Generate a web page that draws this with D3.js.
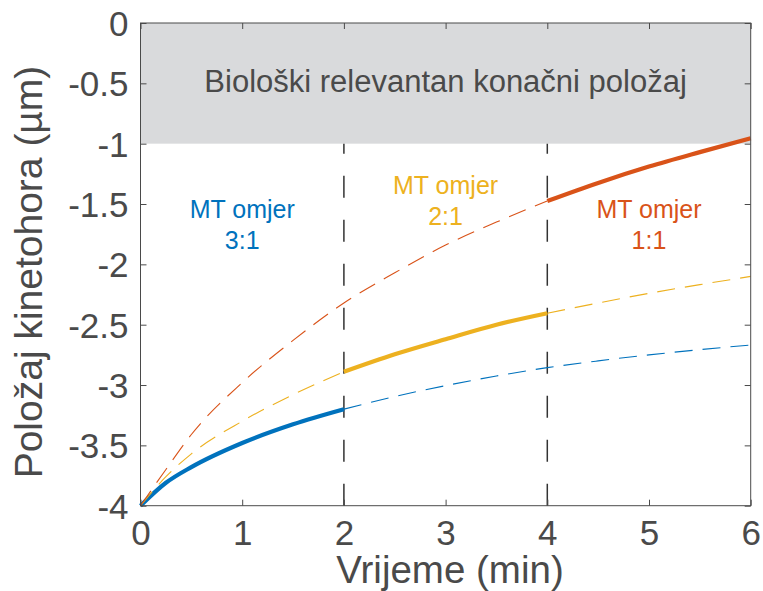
<!DOCTYPE html>
<html>
<head>
<meta charset="utf-8">
<script src="https://cdn.jsdelivr.net/npm/d3@7"></script>
<style>
  html, body { margin: 0; padding: 0; background: #fff; }
  svg { display: block; font-family: "Liberation Sans", Arial, Helvetica, sans-serif; }
</style>
</head>
<body>
<svg id="chart" width="763" height="591"></svg>
<script>
// ---- data ----
const time        = [0, 0.25, 0.5, 1, 1.5, 2, 2.5, 3, 3.5, 4, 4.5, 5, 5.5, 6];
const ratio31     = [-4, -3.81, -3.68, -3.48, -3.325, -3.20, -3.095, -3.005, -2.925, -2.856, -2.80, -2.75, -2.707, -2.668];
const ratio21     = [-4, -3.76, -3.57, -3.30, -3.08, -2.89, -2.745, -2.62, -2.50, -2.405, -2.32, -2.24, -2.168, -2.10];
const ratio11     = [-4, -3.70, -3.41, -2.98, -2.63, -2.32, -2.07, -1.84, -1.65, -1.475, -1.325, -1.19, -1.07, -0.955];
const seriesNames = ["MT omjer\n3:1", "MT omjer\n2:1", "MT omjer\n1:1"];
const activeFrom  = [0, 2, 4];
const activeTo    = [2, 4, 6];
const labelAt     = [1, 3, 5];
const labelY      = [-1.62, -1.42, -1.62];
const colors      = ["#0072BD", "#EDB120", "#D95319"];
const xTicks      = [0, 1, 2, 3, 4, 5, 6];
const yTicks      = [0, -0.5, -1, -1.5, -2, -2.5, -3, -3.5, -4];
const phaseLines  = [2, 4];
const bandRange   = [-1, 0];
const bandText    = "Biološki relevantan konačni položaj";
const xTitle      = "Vrijeme (min)";
const yTitle      = "Položaj kinetohora (µm)";

// ---- layout ----
const svg = d3.select("#chart");
const L = 140.5, R = 750.7, T = 23, B = 505.7;
const axisColor = "#4a4a4a";
const x = d3.scaleLinear().domain([0, 6]).range([L, R]);
const y = d3.scaleLinear().domain([-4, 0]).range([B, T]);

// grey band
svg.append("rect")
  .attr("x", x(0)).attr("width", x(6) - x(0))
  .attr("y", y(bandRange[1])).attr("height", y(bandRange[0]) - y(bandRange[1]))
  .attr("fill", "#d9dadc");

svg.append("text")
  .attr("x", x(3)).attr("y", 92)
  .attr("text-anchor", "middle")
  .attr("font-size", 31).attr("fill", "#4a4a4a")
  .text(bandText);

// phase separator lines
phaseLines.forEach(t => {
  svg.append("line")
    .attr("x1", x(t)).attr("x2", x(t))
    .attr("y1", y(-4)).attr("y2", y(-1))
    .attr("stroke", "#333").attr("stroke-width", 1.5)
    .attr("stroke-dasharray", "22,22");
});

// curves
const series = [ratio31, ratio21, ratio11];
const line = d3.line()
  .x(d => x(d[0])).y(d => y(d[1]))
  .curve(d3.curveMonotoneX);

series.forEach((vals, i) => {
  const pts = time.map((t, k) => [t, vals[k]]);
  const before = pts.filter(p => p[0] <= activeFrom[i]);
  const after = pts.filter(p => p[0] >= activeTo[i]);
  const active = pts.filter(p => p[0] >= activeFrom[i] && p[0] <= activeTo[i]);
  [before, after].forEach(seg => {
    if (seg.length > 1) {
      svg.append("path").attr("d", line(seg))
        .attr("fill", "none").attr("stroke", colors[i])
        .attr("stroke-width", 1.1).attr("stroke-dasharray", "18,10");
    }
  });
  svg.append("path").attr("d", line(active))
    .attr("fill", "none").attr("stroke", colors[i])
    .attr("stroke-width", 4.2).attr("stroke-linecap", "butt");

  const lines = seriesNames[i].split("\n");
  const txt = svg.append("text")
    .attr("x", x(labelAt[i])).attr("y", y(labelY[i]))
    .attr("text-anchor", "middle").attr("font-size", 25)
    .attr("fill", colors[i]);
  lines.forEach((s, k) => {
    txt.append("tspan").attr("x", x(labelAt[i])).attr("dy", k === 0 ? 0 : 30.5).text(s);
  });
});

// axes box
svg.append("rect")
  .attr("x", L).attr("y", T).attr("width", R - L).attr("height", B - T)
  .attr("fill", "none").attr("stroke", axisColor).attr("stroke-width", 1);

const tickLen = 6;
const fmt = d => d3.format("")(d).replace("−", "-");
const xAxisB = d3.axisBottom(x).tickValues(xTicks).tickSizeInner(-tickLen).tickSizeOuter(0).tickPadding(14).tickFormat(fmt);
const xAxisT = d3.axisTop(x).tickValues(xTicks).tickSizeInner(-tickLen).tickSizeOuter(0).tickFormat("");
const yAxisL = d3.axisLeft(y).tickValues(yTicks).tickSizeInner(-tickLen).tickSizeOuter(0).tickPadding(12).tickFormat(fmt);
const yAxisR = d3.axisRight(y).tickValues(yTicks).tickSizeInner(-tickLen).tickSizeOuter(0).tickFormat("");

function style(g) {
  g.select(".domain").remove();
  g.selectAll(".tick line").attr("stroke", axisColor).attr("stroke-width", 1);
  g.selectAll(".tick text").attr("fill", "#4a4a4a").attr("font-size", 35)
    .attr("font-family", "'Liberation Sans', Arial, Helvetica, sans-serif");
}
svg.append("g").attr("transform", `translate(0,${B})`).call(xAxisB).call(style)
  .selectAll(".tick text").attr("dy", "0.71em");
svg.append("g").attr("transform", `translate(0,${T})`).call(xAxisT).call(style);
svg.append("g").attr("transform", `translate(${L},0)`).call(yAxisL).call(style)
  .selectAll(".tick text").attr("dy", "0.36em");
svg.append("g").attr("transform", `translate(${R},0)`).call(yAxisR).call(style);

// axis titles
svg.append("text")
  .attr("x", 450).attr("y", 583)
  .attr("text-anchor", "middle").attr("font-size", 38.5).attr("fill", "#4a4a4a")
  .text(xTitle);
svg.append("text")
  .attr("transform", `translate(42,272) rotate(-90)`)
  .attr("text-anchor", "middle").attr("font-size", 39).attr("fill", "#4a4a4a")
  .text(yTitle);
</script>
</body>
</html>
